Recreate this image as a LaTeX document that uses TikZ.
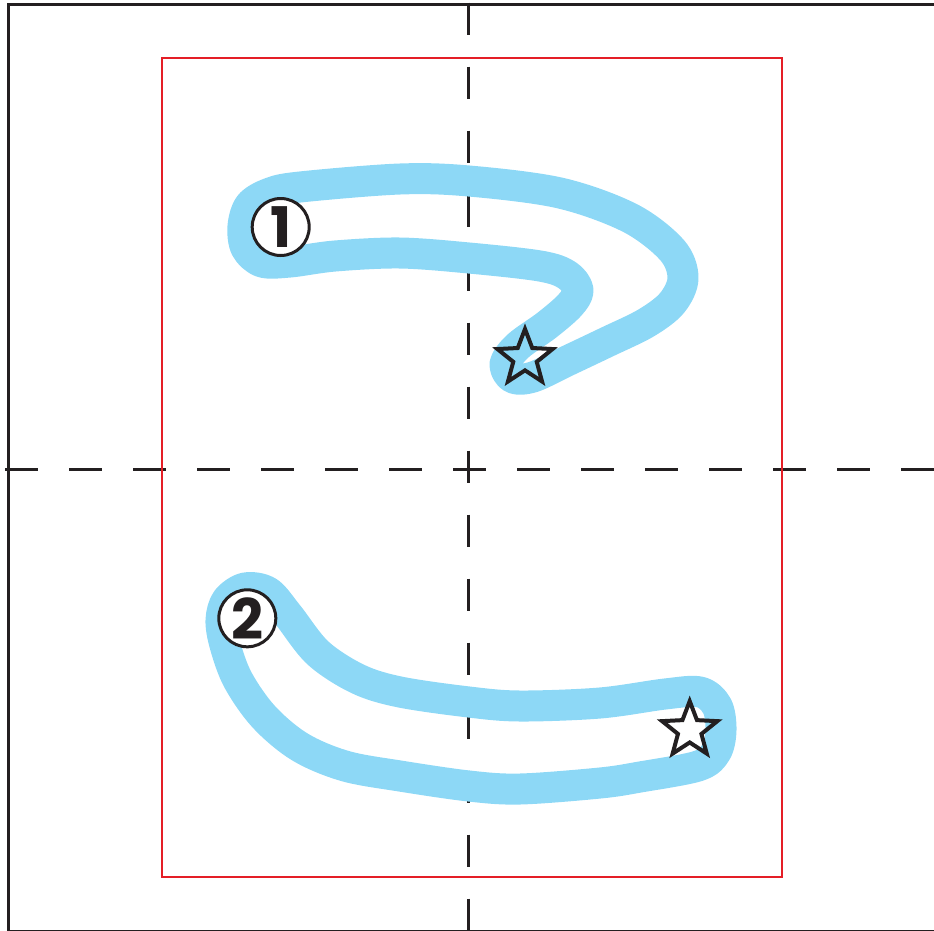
\documentclass[tikz,border=0pt]{standalone}
\usepackage{fontspec}
\newfontfamily\numfont{Poppins}
\usetikzlibrary{shapes.geometric}
\definecolor{trace}{RGB}{141,216,246}
\definecolor{gridred}{RGB}{228,30,38}
\definecolor{ink}{RGB}{35,31,32}
\tikzset{
  frameline/.style={draw=ink, line width=2.7pt},
  guide/.style={draw=ink, line width=2.5pt, dash pattern=on 32.4pt off 31.6pt},
  redbox/.style={draw=gridred, line width=2.2pt},
  tracepath/.style={draw=trace, line width=31pt, line join=round},
  startmark/.style={circle, draw=ink, fill=white, line width=3pt, minimum size=57pt, inner sep=0pt,
    font=\numfont\bfseries\fontsize{56}{56}\selectfont, text=ink},
  endmark/.style={star, star points=5, star point ratio=2.35, draw=ink, line width=4pt,
    minimum size=58pt, inner sep=0pt, line join=miter}
}
\begin{document}
\begin{tikzpicture}[x=1pt,y=-1pt]
\useasboundingbox (0,0) rectangle (934,930);
% outer frame
\draw[frameline] (8.7,4.5) rectangle (935.3,931.3);
% guide lines
\draw[guide] (5.3,469.3) -- (934,469.3);
\draw[guide] (468.7,2.7) -- (468.7,930);
% red box
\draw[redbox] (161.7,58.3) rectangle (782,876.7);
% stroke 1 outline
\draw[tracepath] plot[smooth cycle, tension=0.55] coordinates {
 (243,226) (250,205) (270,193) (300,187) (400,179) (469,181) (560,193) (630,218)
 (672,250) (683,278) (672,303) (646,323) (607,342) (567,361) (533,377) (513,378)
 (505,364) (518,346) (547,325) (570,305) (578,290) (567,275) (540,266) (469,258)
 (400,253) (335,256) (290,262) (262,262) (246,248)};
% stroke 2 outline
\draw[tracepath] plot[smooth cycle, tension=0.55] coordinates {
 (221,620) (227,600) (245,588) (268,592) (288,615) (318,653) (358,679) (400,692)
 (469,702) (520,706) (600,703) (665,694) (700,692) (717,706) (721,730) (716,752)
 (698,766) (640,777) (600,783) (520,789) (469,786) (400,776) (345,766) (300,747)
 (264,717) (238,680) (225,645)};
% start marks
\node[startmark] (c1) at (280.7,227) {1};
\node[startmark] (c2) at (247.3,618.3) {2};
% end marks
\node[endmark] (s1) at (525,358) {};
\node[endmark] (s2) at (689.7,730.1) {};
\end{tikzpicture}
\end{document}
